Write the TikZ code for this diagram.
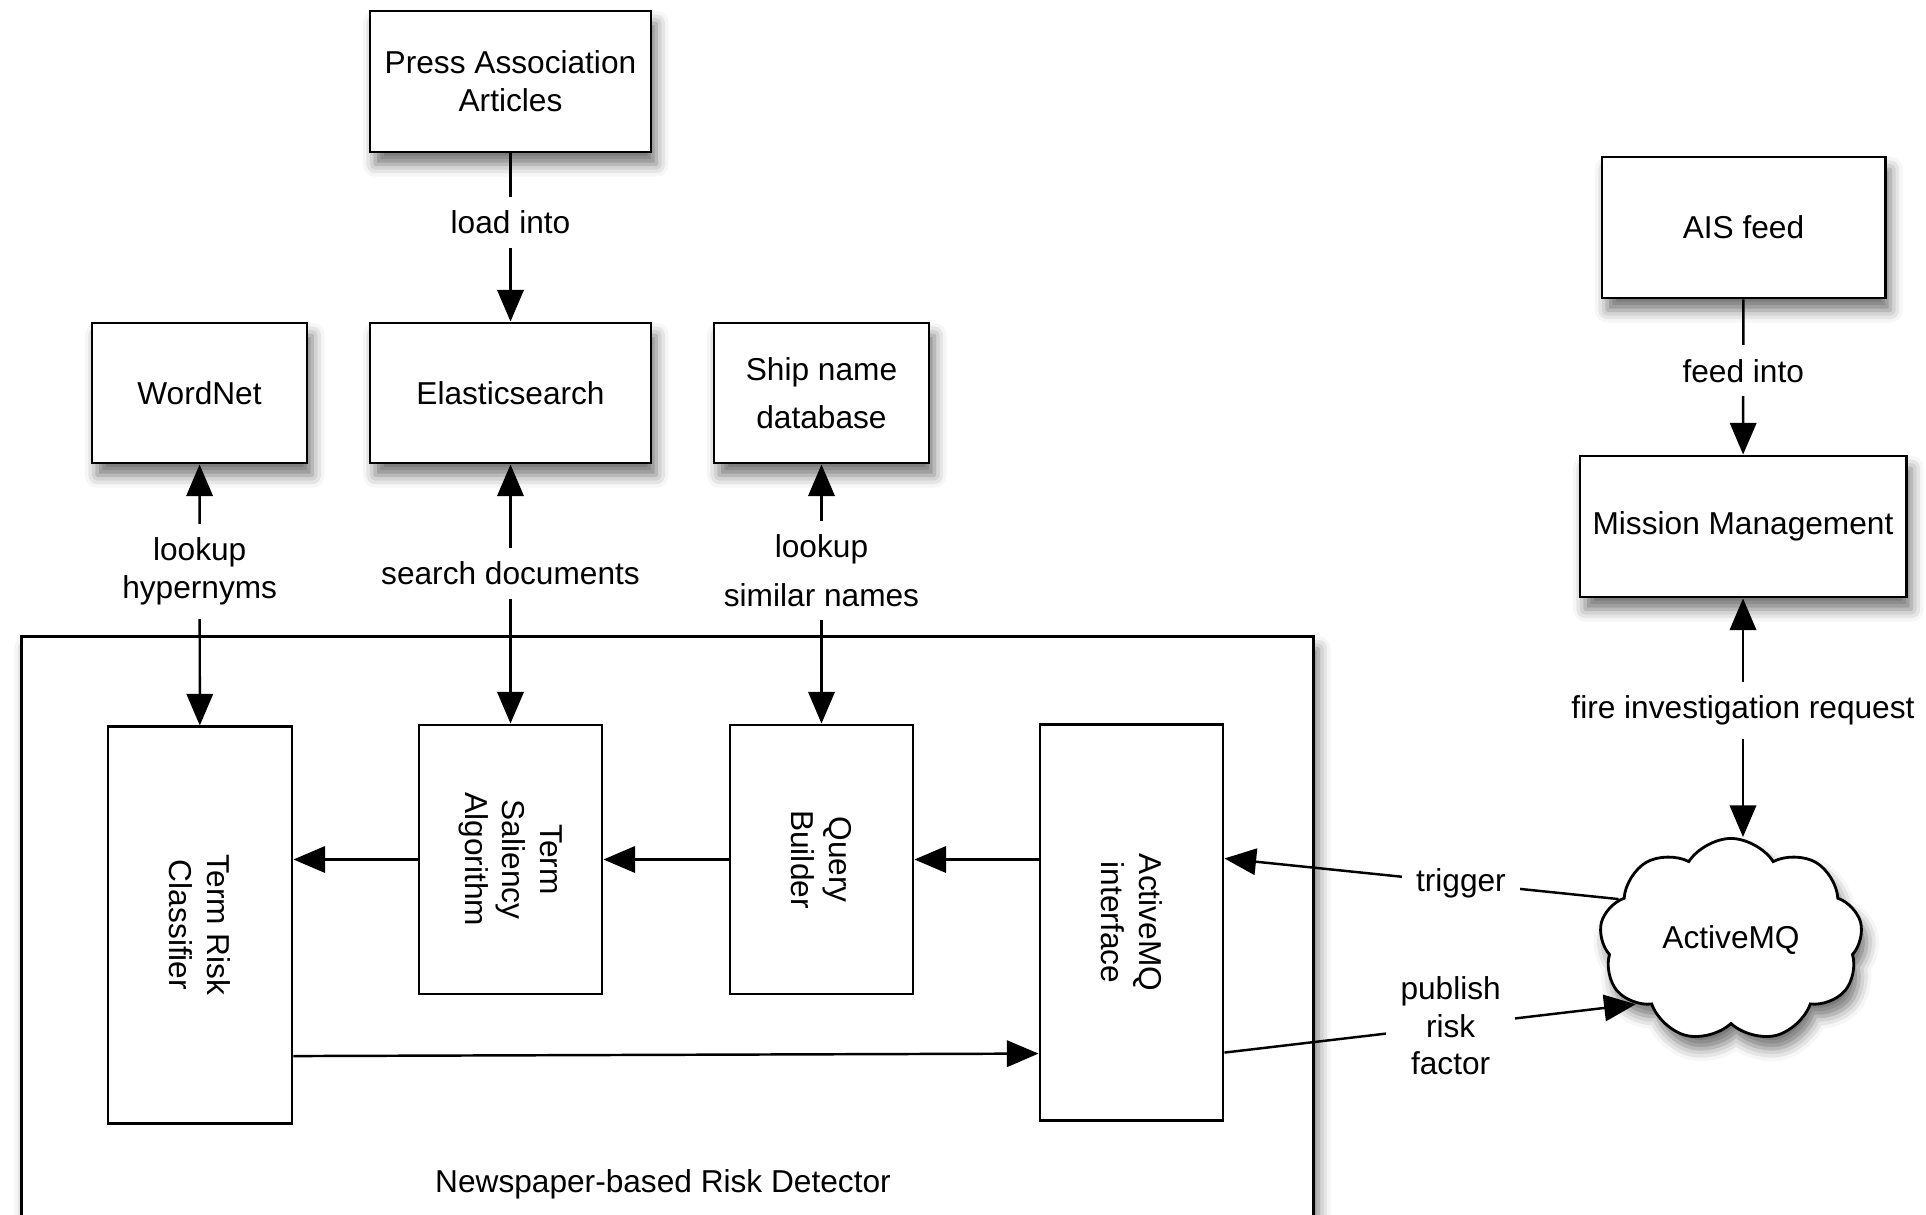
\documentclass[tikz,border=0pt]{standalone}
\usepackage{fontspec}
\setmainfont{Liberation Sans}
\usepackage{tikz}
\usetikzlibrary{shapes,shapes.symbols,arrows,positioning,calc,arrows.meta,shadows.blur}

\tikzset{
  box/.style={draw, line width=0.8pt, fill=white, align=center, inner sep=0pt,
    blur shadow={shadow xshift=1.5pt, shadow yshift=-3.5pt, shadow blur radius=3.5pt, shadow opacity=55}},
  inbox/.style={draw, line width=0.8pt, fill=white, inner sep=0pt, minimum width=1.83cm},
  lbl/.style={fill=white, align=center, inner sep=4pt},
  arr/.style={line width=0.7pt, -{Triangle[length=9pt,width=7.5pt]}},
  darr/.style={line width=0.7pt, {Triangle[length=9pt,width=7.5pt]}-{Triangle[length=9pt,width=7.5pt]}},
}

\begin{document}
\begin{tikzpicture}[x=0.01cm, y=-0.01cm, font=\fontsize{9pt}{10.7pt}\selectfont]
    \useasboundingbox (0,0) rectangle (1926,1215);

    % detector frame
    \node[box, anchor=north west, minimum width=12.91cm, minimum height=6.1cm] (nrd) at (20,635) {};
    \node (nrd-l) at (663,1184) {Newspaper-based Risk Detector};

    % sources
    \node[box, minimum width=2.81cm, minimum height=1.41cm] (press) at (510.5,81.5) {Press Association\\Articles};
    \node[box, minimum width=2.81cm, minimum height=1.40cm] (es) at (510.5,393) {Elasticsearch};
    \node[box, minimum width=2.15cm, minimum height=1.40cm] (wn) at (199.5,393) {WordNet};
    \node[box, minimum width=2.15cm, minimum height=1.40cm] (ship) at (821.5,393) {Ship name\\[3pt]database};
    \node[box, minimum width=2.83cm, minimum height=1.41cm] (ais) at (1743.5,227.5) {AIS feed};
    \node[box, minimum width=3.26cm, minimum height=1.41cm] (mm) at (1743,526.5) {Mission Management};

    % detector parts
    \node[inbox, minimum width=1.84cm, minimum height=3.96cm] (trc) at (200,925) {};
    \node[rotate=-90, align=center] (trc-t) at (trc) {Term Risk\\Classifier};
    \node[inbox, minimum height=2.69cm] (tsa) at (510.5,859.5) {};
    \node[rotate=-90, align=center] (tsa-t) at (tsa) {Term\\Saliency\\Algorithm};
    \node[inbox, minimum height=2.69cm] (qb) at (821.5,859.5) {};
    \node[rotate=-90, align=center] (qb-t) at (qb) {Query\\Builder};
    \node[inbox, minimum height=3.95cm] (amqi) at (1131.5,922.5) {};
    \node[rotate=-90, align=center] (amqi-t) at (amqi) {ActiveMQ\\interface};

    \node[cloud, draw, line width=0.8pt, fill=white, cloud puffs=9, cloud puff arc=115, aspect=1.3,
          minimum width=2.63cm, minimum height=2.03cm, inner sep=0pt,
          blur shadow={shadow xshift=1.5pt, shadow yshift=-3.5pt, shadow blur radius=3.5pt, shadow opacity=55}] (mq) at (1731,940) {ActiveMQ};

    % connections
    \draw[arr] (press) -- node[lbl, pos=0.41] (l-load) {load into} (es);
    \draw[darr] (wn) -- node[lbl, pos=0.41] (l-hyp) {lookup\\hypernyms} (trc);
    \draw[darr] (es) -- node[lbl, pos=0.42] (l-search) {search documents} (tsa);
    \draw[darr] (ship) -- node[lbl, pos=0.41] (l-sim) {lookup\\[3pt]similar names} (qb);
    \draw[arr] (ais) -- node[lbl, pos=0.46] (l-feed) {feed into} (mm);
    \draw[darr] (mm.south) -- node[lbl, pos=0.47] (l-fire) {fire investigation request} (mm.south |- mq.north);

    \draw[arr] (qb.east -| amqi.west) -- (qb.east);
    \draw[arr] (qb.west) -- (tsa.east);
    \draw[arr] (tsa.west) -- (tsa.west -| trc.east);
    \draw[arr] ([yshift=-1.31cm]trc.east) -- ([yshift=-1.31cm]amqi.west);

    \draw[arr] (mq.160) -- node[lbl, pos=0.40] (l-trig) {trigger} ([yshift=0.64cm]amqi.east);
    \draw[arr] ([yshift=-1.30cm]amqi.east) -- node[lbl, pos=0.55] (l-pub) {publish\\risk\\factor} (mq.214);
\end{tikzpicture}
\end{document}
